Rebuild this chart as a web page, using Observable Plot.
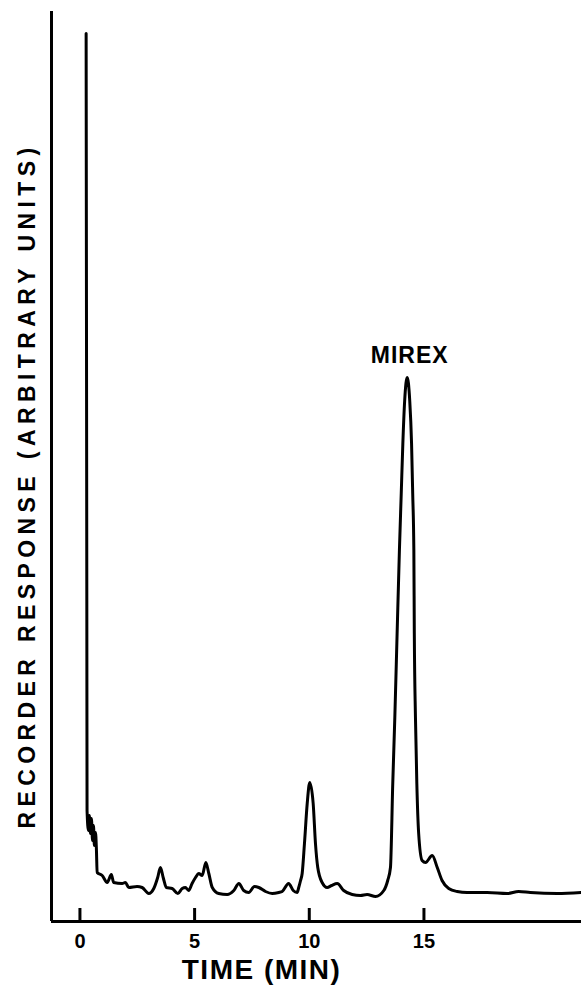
<!DOCTYPE html>
<html><head><meta charset="utf-8">
<script src="https://cdn.jsdelivr.net/npm/d3@7"></script>
<script src="https://cdn.jsdelivr.net/npm/@observablehq/plot@0.6"></script>
<style>html,body{margin:0;padding:0;background:#fff} svg{display:block}</style>
</head><body><div id="chart"></div>
<script>
// Retention time (min)
const time = [0.27,0.30,0.31,0.37,0.41,0.46,0.50,0.55,0.59,0.63,0.68,0.72,0.75,0.97,1.19,1.37,1.47,1.84,1.98,2.13,2.49,2.71,3.00,3.22,3.39,3.51,3.63,3.77,4.02,4.27,4.46,4.60,4.74,4.89,5.04,5.18,5.33,5.49,5.62,5.77,6.05,6.42,6.71,6.93,7.14,7.36,7.61,7.80,8.09,8.38,8.67,8.82,9.10,9.30,9.47,9.54,9.62,9.69,9.79,9.91,10.02,10.17,10.27,10.37,10.56,10.78,10.97,11.22,11.50,11.87,12.23,12.52,12.89,13.25,13.42,13.54,13.64,13.73,13.83,13.93,14.01,14.08,14.16,14.27,14.38,14.46,14.51,14.56,14.58,14.63,14.69,14.77,14.92,15.07,15.36,15.58,15.79,16.08,16.45,16.88,17.76,18.63,19.13,19.64,20.81,21.87];
// Recorder response (arbitrary units)
const response = [88.8,32.1,11.1,9.1,10.6,8.8,10.3,8.1,9.6,7.6,8.9,7.1,4.9,4.6,3.9,4.7,3.9,3.8,3.9,3.4,3.5,3.4,2.8,3.3,4.4,5.4,4.4,3.4,3.3,2.8,3.3,3.4,3.1,3.8,4.4,4.8,4.6,5.9,4.8,3.4,2.8,2.7,3.1,3.8,3.1,2.9,3.5,3.4,3.0,2.8,2.9,3.0,3.8,3.1,2.9,3.4,4.1,4.8,7.8,11.8,13.9,11.8,7.8,5.4,3.9,3.4,3.6,3.8,3.1,2.7,2.6,2.7,2.5,3.1,4.1,5.4,13.8,20.4,28.8,37.1,42.8,47.8,52.1,54.4,52.1,47.8,42.8,37.1,28.8,20.4,13.8,8.8,6.1,5.9,6.6,5.4,4.1,3.3,3.0,2.9,2.9,2.8,3.0,2.9,2.8,2.9];

const xTicks = [0, 5, 10, 15];
const xTickLabels = ["0", "5", "10", "15"];
const xTitle = "TIME (MIN)";
const yTitle = "RECORDER RESPONSE (ARBITRARY UNITS)";
const peakName = "MIREX";
const peakTime = 14.38;
const peakLabelLevel = 56.6;

const data = time.map((t, i) => ({t, v: response[i]}));
const xMin = -1.24;

const chart = Plot.plot({
  width: 581, height: 986,
  marginLeft: 51, marginRight: 0, marginTop: 11, marginBottom: 65,
  x: {domain: [xMin, 21.87], axis: null},
  y: {domain: [0, 91], axis: null},
  style: {fontFamily: "Liberation Sans, Arial, sans-serif", background: "white", color: "black"},
  marks: [
    Plot.line(data, {x: "t", y: "v", stroke: "black", strokeWidth: 3, curve: "monotone-x", strokeLinejoin: "round"}),
    Plot.ruleY([0], {stroke: "black", strokeWidth: 3}),
    Plot.ruleX([xMin], {stroke: "black", strokeWidth: 3}),
    Plot.ruleX(xTicks, {x: d => d, y1: 0, y2: 1.3, stroke: "black", strokeWidth: 3}),
    Plot.text(xTicks, {x: d => d, y: -2.05, text: (d, i) => xTickLabels[i], fontSize: 20, fontWeight: "bold", fill: "black"}),
    Plot.text([xTitle], {x: 7.92, y: -4.9, text: d => d, fontSize: 28, fontWeight: "bold", fill: "black"}),
    Plot.text([yTitle], {x: -2.28, y: 43.6, text: d => d, rotate: -90, fontSize: 23, fontWeight: "bold", fill: "black"}),
    Plot.text([peakName], {x: peakTime, y: peakLabelLevel, text: d => d, fontSize: 23, fontWeight: "bold", fill: "black"})
  ]
});
// widen letter spacing of the titles to match the lettering
d3.select(chart).selectAll("text").filter(function() { return this.textContent === yTitle; })
  .style("letter-spacing", "5.4px");
d3.select(chart).selectAll("text").filter(function() { return this.textContent === xTitle; })
  .style("letter-spacing", "1.5px");
d3.select(chart).selectAll("text").filter(function() { return this.textContent === peakName; })
  .style("letter-spacing", "1px");
document.getElementById("chart").appendChild(chart);
</script>
</body></html>
